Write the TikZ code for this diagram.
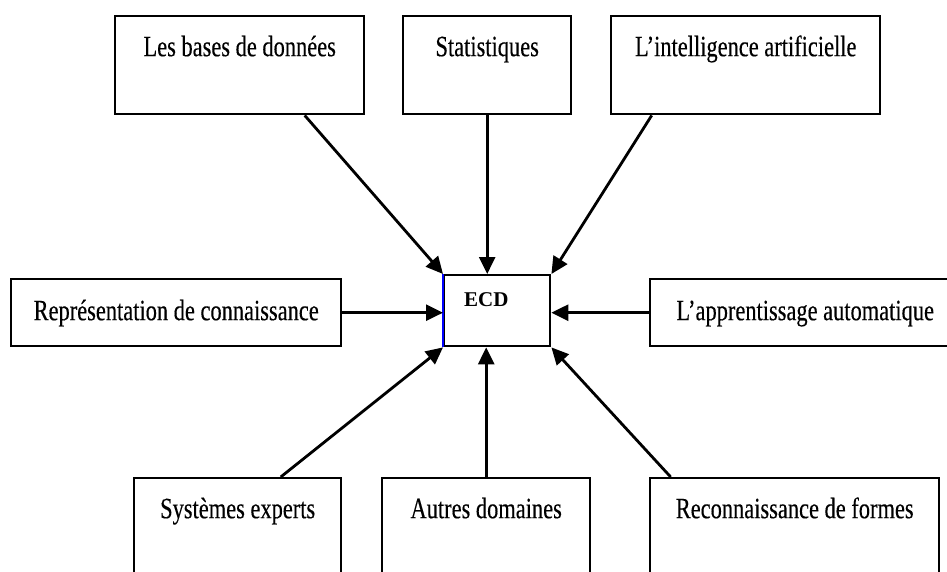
\documentclass[tikz,border=0pt]{standalone}
\usepackage{fontspec}
\setmainfont{Liberation Serif}
\newfontfamily\narrowserif[FakeStretch=0.76,FakeBold=0.3]{Liberation Serif}
\usetikzlibrary{arrows.meta}

\tikzset{
    domaine/.style={draw,line width=2.4pt,anchor=north west,inner xsep=0pt,inner ysep=0pt,
        font=\narrowserif\fontsize{29.5}{31}\selectfont,text height=40pt},
    haut/.style={domaine,text depth=58pt},
    milieu/.style={domaine,text height=41pt,text depth=26pt},
    bas/.style={domaine,text depth=70pt},
    fleche/.style={line width=2.8pt,-{Triangle[length=17pt,width=16pt]}}
}

\begin{document}
\begin{tikzpicture}[x=1pt,y=-1pt]
                \useasboundingbox (0,0) rectangle (947,572);
                \clip (0,0) rectangle (947,572);
                \node[haut,minimum width=249pt] (bdd) at (114,15) {Les bases de données};
                \node[haut,minimum width=168pt] (stat) at (402,15) {Statistiques};
                \node[haut,minimum width=269pt] (ia) at (610,15) {L’intelligence artificielle};
                \node[milieu,minimum width=330pt] (rep) at (10,278) {Représentation de connaissance};
                \node[milieu,minimum width=310pt] (app) at (649,278) {L’apprentissage automatique};
                \node[bas,minimum width=207pt] (se) at (133,477) {Systèmes experts};
                \node[bas,minimum width=208pt] (ad) at (381,477) {Autres domaines};
                \node[bas,minimum width=289pt] (rf) at (649,477) {Reconnaissance de formes};
                \node[draw,line width=2.4pt,anchor=north west,minimum width=106pt,minimum height=71pt,inner sep=0pt] (ecd) at (443,274) {};
                \draw[blue,line width=2.4pt] (ecd.north west) -- (ecd.south west);
                \node[anchor=base west,inner sep=0pt,font=\fontsize{21}{24}\selectfont\bfseries] (ecdtxt) at (464,306) {ECD};
                \draw[fleche] ([xshift=65pt]bdd.south) -- (ecd.north west);
                \draw[fleche] (stat.south) -- (stat.south |- ecd.north);
                \draw[fleche] ([xshift=-94pt]ia.south) -- (ecd.north east);
                \draw[fleche] (rep.east) -- (rep.east -| ecd.west);
                \draw[fleche] (app.west) -- (app.west -| ecd.east);
                \draw[fleche] ([xshift=43pt]se.north) -- (ecd.south west);
                \draw[fleche] (ad.north) -- (ad.north |- ecd.south);
                \draw[fleche] ([xshift=-124pt]rf.north) -- (ecd.south east);
            \end{tikzpicture}
\end{document}
